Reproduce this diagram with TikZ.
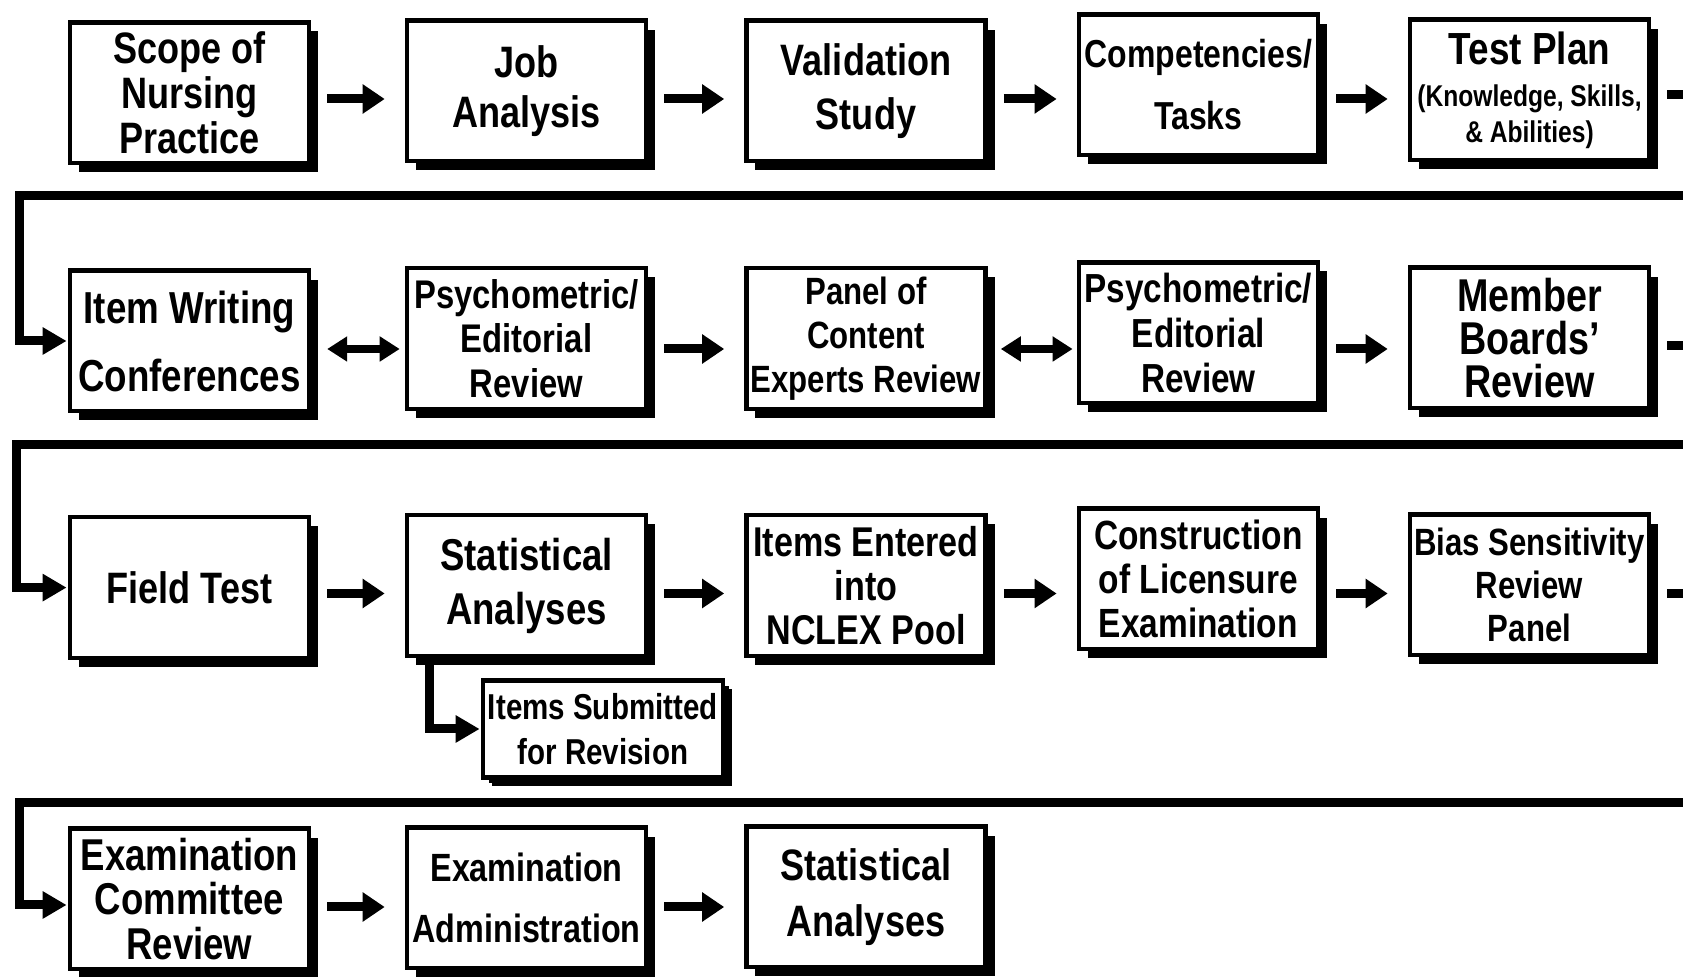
\documentclass[tikz,border=0pt]{standalone}
\usepackage{fontspec}
\setmainfont[FakeStretch=0.82]{Liberation Sans}
\usetikzlibrary{arrows.meta,shadows}
\newcommand\fsz[2]{\fontsize{#1}{#2}\selectfont}
\begin{document}
\begin{tikzpicture}[x=0.5pt,y=-0.5pt,
  box/.style={draw, line width=2.2pt, fill=white, minimum width=119.6pt,
    minimum height=70.3pt, inner sep=0pt, align=center,
    drop shadow={shadow xshift=4.5pt, shadow yshift=-4.5pt, fill=black, opacity=1}},
  fnt/.style 2 args={font=\bfseries\fsz{#1}{#2}},
  arr/.style={line width=4.5pt, -{Triangle[length=11pt,width=14pt]},
    shorten <=8pt, shorten >=10pt},
  dbl/.style={line width=4pt, {Triangle[length=10pt,width=12pt]}-{Triangle[length=10pt,width=12pt]}},
  ent/.style={line width=4.5pt, -{Triangle[length=12pt,width=13pt]}, shorten >=0.5pt},
  ln/.style={line width=4.5pt, shorten <=8pt}]
\useasboundingbox (0,0) rectangle (1683,977);
\fill[white] (0,0) rectangle (1683,977);

% row 1
\node[box, fnt={22}{22.3}] (scope) at (189.4,92.8) {Scope of\\Nursing\\Practice};
\node[box, fnt={22}{24.7}] (job) at (526.5,91) {Job\\Analysis};
\node[box, fnt={22}{27}] (valid) at (866,91) {Validation\\Study};
\node[box, fnt={19.5}{31}] (comp) at (1198.4,85) {Competencies/\\Tasks};
\node[box, fnt={15}{18}] (plan) at (1529.5,90) {\fsz{22.5}{22}Test Plan\\[3pt]\fsz{15}{18}(Knowledge, Skills,\\\& Abilities)};

% row 2
\node[box, fnt={22.4}{34}] (item) at (189.4,341) {Item Writing\\Conferences};
\node[box, fnt={20}{22.3}] (psy1) at (526.5,338.6) {Psychometric/\\Editorial\\Review};
\node[box, fnt={19}{22}] (panel) at (866,338.6) {Panel of\\Content\\Experts Review};
\node[box, fnt={20.3}{22.5}] (psy2) at (1198.4,332.7) {Psychometric/\\Editorial\\Review};
\node[box, fnt={23}{21.5}] (member) at (1529.5,338) {Member\\Boards'\\Review};

% row 3
\node[box, fnt={22}{24}] (field) at (189.4,587.6) {Field Test};
\node[box, fnt={22.3}{27}] (stat) at (526.5,585.5) {Statistical\\Analyses};
\node[box, fnt={20.8}{22}] (entered) at (866,585.5) {Items Entered\\into\\NCLEX Pool};
\node[box, fnt={20.4}{22}] (constr) at (1198.4,579) {Construction\\of Licensure\\Examination};
\node[box, fnt={19}{21.5}] (bias) at (1529.5,585) {Bias Sensitivity\\Review\\Panel};
\node[box, fnt={18}{22.5}, minimum width=120pt, minimum height=48.5pt,
  drop shadow={shadow xshift=3pt, shadow yshift=-3pt, fill=black, opacity=1}] (sub) at (602.8,729) {Items Submitted\\for Revision};

% row 4
\node[box, fnt={22.3}{22.3}] (comm) at (189.4,899) {Examination\\Committee\\Review};
\node[box, fnt={19.7}{30.6}] (admin) at (526.5,898) {Examination\\Administration};
\node[box, fnt={22}{28}] (stat2) at (866,897) {Statistical\\Analyses};

% row arrow levels
\coordinate (y1) at (0,99);
\coordinate (y2) at (0,349);
\coordinate (y3) at (0,593.5);
\coordinate (y4) at (0,907);

\draw[arr] (scope.east |- y1) -- (job.west |- y1);
\draw[arr] (job.east |- y1) -- (valid.west |- y1);
\draw[arr] (valid.east |- y1) -- (comp.west |- y1);
\draw[arr] (comp.east |- y1) -- (plan.west |- y1);

\draw[dbl, shorten <=8pt, shorten >=2.5pt] (item.east |- y2) -- (psy1.west |- y2);
\draw[arr] (psy1.east |- y2) -- (panel.west |- y2);
\draw[dbl, shorten <=6.5pt, shorten >=2pt] (panel.east |- y2) -- (psy2.west |- y2);
\draw[arr] (psy2.east |- y2) -- (member.west |- y2);

\draw[arr] (field.east |- y3) -- (stat.west |- y3);
\draw[arr] (stat.east |- y3) -- (entered.west |- y3);
\draw[arr] (entered.east |- y3) -- (constr.west |- y3);
\draw[arr] (constr.east |- y3) -- (bias.west |- y3);

\draw[arr] (comm.east |- y4) -- (admin.west |- y4);
\draw[arr] (admin.east |- y4) -- (stat2.west |- y4);

% stubs leaving at the right
\coordinate (e1) at (1683,94.5);
\coordinate (e2) at (1683,345.6);
\coordinate (e3) at (1683,593.5);
\draw[ln] (plan.east |- e1) -- (e1);
\draw[ln] (member.east |- e2) -- (e2);
\draw[ln] (bias.east |- e3) -- (e3);

% return lines
\coordinate (r1) at (1683,196);
\coordinate (l1) at (19,196);
\coordinate (r2) at (1683,445);
\coordinate (l2) at (16,445);
\coordinate (r3) at (1683,803);
\coordinate (l3) at (19,803);
\coordinate (y4e) at (0,905);
\draw[ent] (r1) -- (l1) |- (item.west);
\draw[ent] (r2) -- (l2) |- (field.west);
\draw[ent] (r3) -- (l3) |- (comm.west |- y4e);

% to revision
\coordinate (sv) at (429,0);
\draw[ent] (stat.south -| sv) |- (sub.west);
\end{tikzpicture}
\end{document}
